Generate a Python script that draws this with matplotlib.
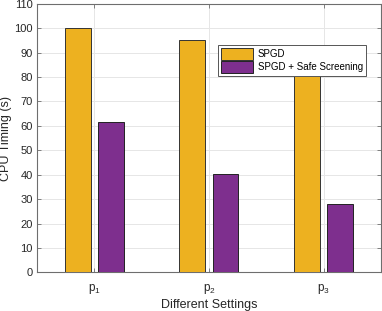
import numpy as np
import matplotlib
matplotlib.use("Agg")
import matplotlib.pyplot as plt

# data
settings = ['p$_1$', 'p$_2$', 'p$_3$']
spgd = [100.0, 95.0, 83.0]
spgd_safe = [61.7, 40.4, 28.2]

plt.rcParams['font.family'] = ['Liberation Sans', 'DejaVu Sans']
plt.rcParams['mathtext.fontset'] = 'custom'
plt.rcParams['mathtext.rm'] = 'Liberation Sans'
plt.rcParams['mathtext.default'] = 'regular'

fig = plt.figure(figsize=(3.82, 3.11), dpi=100)
ax = fig.add_axes([0.097, 0.124, 0.9, 0.864])

x = np.arange(1, len(settings) + 1)
w = 0.225
off = 0.145
ax.bar(x - off, spgd, w, color='#EDB120', edgecolor='#333333', linewidth=0.7,
       label='SPGD', zorder=3)
ax.bar(x + off, spgd_safe, w, color='#7E2F8E', edgecolor='#222222', linewidth=0.7,
       label='SPGD + Safe Screening', zorder=3)

ax.set_xlim(0.5, 3.5)
ax.set_ylim(0, 110)
ax.set_yticks(np.arange(0, 111, 10))
ax.set_xticks(x)
ax.set_xticklabels(settings)

ax.grid(True, color='#e6e6e6', linewidth=0.7, zorder=0)
ax.set_axisbelow(True)
for s in ax.spines.values():
    s.set_color('#6e6e6e')
    s.set_linewidth(0.8)
ax.tick_params(direction='in', length=3, width=0.6, colors='#6e6e6e',
               labelcolor='#262626', labelsize=8, top=True, right=True, pad=3)
ax.tick_params(axis='x', labelsize=8.5, pad=7)

ax.set_xlabel('Different Settings', fontsize=9, color='#262626', labelpad=2)
ax.set_ylabel('CPU Timing (s)', fontsize=9, color='#262626', labelpad=2)

leg = ax.legend(loc='upper left', bbox_to_anchor=(0.527, 0.846), fontsize=7,
                fancybox=False, framealpha=1, edgecolor='#555555',
                handlelength=3.3, handleheight=1.5, borderpad=0.3,
                labelspacing=0.15, handletextpad=0.45, borderaxespad=0)
leg.get_frame().set_linewidth(0.7)
leg.set_zorder(5)

fig.savefig('out.png', dpi=100)
